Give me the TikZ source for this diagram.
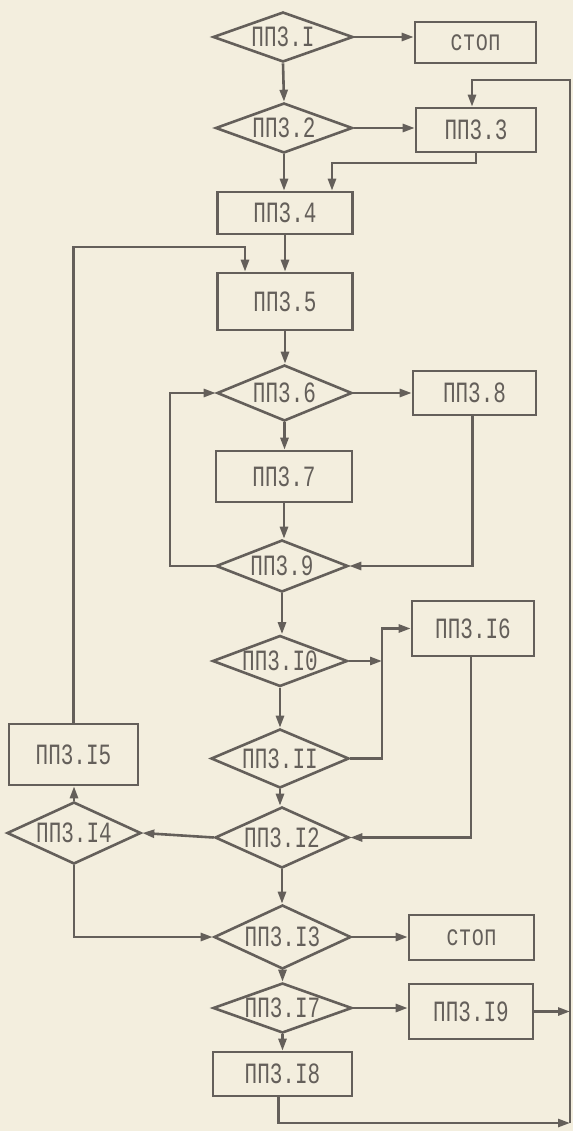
\documentclass[tikz,border=0pt]{standalone}
\usepackage{fontspec}
\usepackage{graphicx}
\setmonofont{Liberation Mono}
\usetikzlibrary{shapes.geometric,arrows.meta,calc}
\definecolor{paper}{RGB}{243,238,222}
\definecolor{ink}{RGB}{100,95,90}
\definecolor{txt}{RGB}{100,95,90}
\newcommand{\lbl}[1]{\scalebox{1}[1.4]{#1}}
\tikzset{
  every node/.style={font=\fontsize{21}{21}\selectfont\ttfamily, text=txt},
  boxnode/.style={draw=ink, line width=2.6pt, rectangle, inner sep=0pt},
  decnode/.style={draw=ink, line width=2.6pt, diamond, inner sep=0pt},
  conn/.style={draw=ink, line width=2.6pt},
  arr/.style={conn, -{Triangle[length=12pt,width=8pt]}},
}
\begin{document}
\begin{tikzpicture}[x=1pt,y=-1pt]
\fill[paper] (0,0) rectangle (573,1131);
\useasboundingbox (0,0) rectangle (573,1131);

% boxes
\node[boxnode, minimum width=121pt, minimum height=41pt] (stop1) at (475.5,42.5) {\lbl{стоп}};
\node[boxnode, minimum width=120pt, minimum height=44pt] (p3) at (476,130) {\lbl{ПП3.3}};
\node[boxnode, minimum width=135pt, minimum height=42pt] (p4) at (285,213) {\lbl{ПП3.4}};
\node[boxnode, minimum width=135pt, minimum height=57pt] (p5) at (285,301.5) {\lbl{ПП3.5}};
\node[boxnode, minimum width=123pt, minimum height=44pt] (p8) at (474.5,393) {\lbl{ПП3.8}};
\node[boxnode, minimum width=136pt, minimum height=51pt] (p7) at (284,476.5) {\lbl{ПП3.7}};
\node[boxnode, minimum width=122pt, minimum height=55pt] (p16) at (473,628.5) {\lbl{ПП3.I6}};
\node[boxnode, minimum width=129pt, minimum height=61pt] (p15) at (73.5,754.5) {\lbl{ПП3.I5}};
\node[boxnode, minimum width=125pt, minimum height=45pt] (stop2) at (471.5,937.5) {\lbl{стоп}};
\node[boxnode, minimum width=124pt, minimum height=55pt] (p19) at (471,1011.5) {\lbl{ПП3.I9}};
\node[boxnode, minimum width=139pt, minimum height=44pt] (p18) at (282.5,1074) {\lbl{ПП3.I8}};

% decisions
\node[decnode, minimum width=140pt, minimum height=50pt, label={center:\lbl{ПП3.I}}] (d1) at (283,37) {};
\node[decnode, minimum width=137pt, minimum height=50pt, label={center:\lbl{ПП3.2}}] (d2) at (284,128) {};
\node[decnode, minimum width=135pt, minimum height=56pt, label={center:\lbl{ПП3.6}}] (d6) at (284.5,393) {};
\node[decnode, minimum width=132pt, minimum height=52pt, label={center:\lbl{ПП3.9}}] (d9) at (282,566) {};
\node[decnode, minimum width=135pt, minimum height=51pt, label={center:\lbl{ПП3.I0}}] (d10) at (280,661) {};
\node[decnode, minimum width=138pt, minimum height=59pt, label={center:\lbl{ПП3.II}}] (d11) at (280,758.5) {};
\node[decnode, minimum width=134pt, minimum height=61pt, label={center:\lbl{ПП3.I2}}] (d12) at (282,837.5) {};
\node[decnode, minimum width=134pt, minimum height=62pt, label={center:\lbl{ПП3.I4}}] (d14) at (74,833) {};
\node[decnode, minimum width=137pt, minimum height=64pt, label={center:\lbl{ПП3.I3}}] (d13) at (282.5,937) {};
\node[decnode, minimum width=139pt, minimum height=50pt, label={center:\lbl{ПП3.I7}}] (d17) at (282.5,1008) {};

% junction coordinates
\coordinate (rt) at (570,80);
\coordinate (rb) at (570,1123);
\coordinate (j1) at (332,163);
\coordinate (j2) at (245,247);
\coordinate (j3) at (170,566);
\coordinate (j4) at (382,661);
\coordinate (j5) at (382,628.5);

% connectors
\draw[arr] (d1.east) -- (d1.east -| stop1.west);
\draw[arr] (d1.south) -- (d2.north);
\draw[arr] (d2.east) -- (d2.east -| p3.west);
\draw[arr] (d2.south) -- (d2.south |- p4.north);
\draw[arr] (p3.south) |- (j1) -- (j1 |- p4.north);
\draw[arr] (rb) -- (rt) -| ([xshift=-4pt]p3.north);
\draw[arr] (p4.south) -- (p5.north);
\draw[arr] (p15.north) |- (j2) -- (j2 |- p5.north);
\draw[arr] (p5.south) -- (p5.south |- d6.north);
\draw[arr] (d6.east) -- (p8.west);
\draw[arr] (d6.south) -- (d6.south |- p7.north);
\draw[arr] (p7.south) -- (p7.south |- d9.north);
\draw[arr] ([xshift=-2pt]p8.south) |- (d9.east);
\draw[arr] (d9.west) -- (j3) |- (d6.west);
\draw[arr] (d9.south) -- (d9.south |- d10.north);
\draw[arr] (d10.east) -- (j4);
\draw[arr] (d11.east) -| (j5) -- (p16.west);
\draw[arr] (d10.south) -- (d10.south |- d11.north);
\draw[arr] (d11.south) -- (d11.south |- d12.north);
\draw[arr] ([xshift=-2pt]p16.south) |- (d12.east);
\draw[arr] (d12.west) -- (d14.east);
\draw[arr] (d14.north) -- (d14.north |- p15.south);
\draw[arr] (d14.south) |- (d13.west);
\draw[arr] (d12.south) -- (d12.south |- d13.north);
\draw[arr] (d13.east) -- (d13.east -| stop2.west);
\draw[arr] (d13.south) -- (d17.north);
\draw[arr] (d17.east) -- (d17.east -| p19.west);
\draw[arr] (d17.south) -- (d17.south |- p18.north);
\draw[arr] (p19.east) -- (p19.east -| rb);
\draw[arr] ([xshift=-4pt]p18.south) |- (rb);
\end{tikzpicture}
\end{document}
